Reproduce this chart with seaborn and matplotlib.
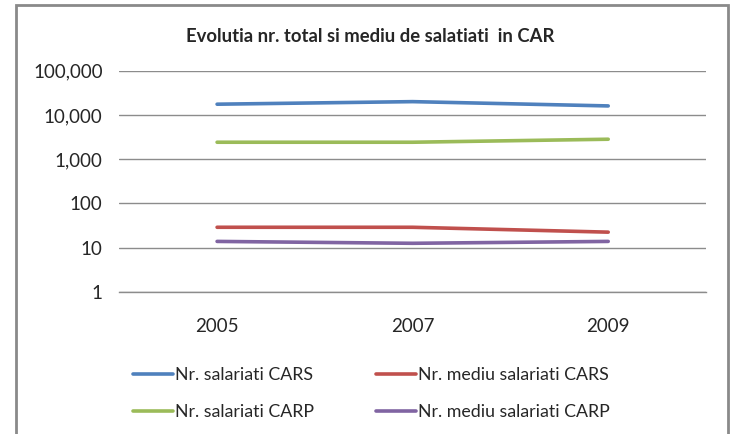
import matplotlib
matplotlib.use("Agg")
import matplotlib.pyplot as plt
import matplotlib.patches as mpatches
from matplotlib.ticker import FixedLocator, NullLocator
import seaborn as sns
import pandas as pd

years = ["2005", "2007", "2009"]
series_names = ["Nr. salariati CARS", "Nr. mediu salariati CARS",
                "Nr. salariati CARP", "Nr. mediu salariati CARP"]
sal_cars = [17500, 20000, 16000]
mediu_cars = [29, 29, 22.5]
sal_carp = [2420, 2420, 2830]
mediu_carp = [13.9, 12.6, 13.9]
ytick_vals = [1, 10, 100, 1000, 10000, 100000]
ytick_labels = ["1", "10", "100", "1,000", "10,000", "100,000"]
colors = ["#4F81BD", "#C0504D", "#9BBB59", "#8064A2"]
title = "Evolutia nr. total si mediu de salatiati  in CAR"

rows = []
for name, vals in zip(series_names, [sal_cars, mediu_cars, sal_carp, mediu_carp]):
    for i, (y, v) in enumerate(zip(years, vals)):
        rows.append({"idx": i, "year": y, "value": v, "series": name})
df = pd.DataFrame(rows)

sns.set_theme(style="white")
plt.rcParams["font.family"] = ["Lato", "DejaVu Sans"]
plt.rcParams["lines.solid_capstyle"] = "round"
plt.rcParams["lines.solid_joinstyle"] = "round"
text_color = "#262626"
grid_color = "#8c8c8c"

fig = plt.figure(figsize=(7.30, 4.34), dpi=100)
ax = fig.add_axes([119.3 / 730, 1 - 292 / 434, (706 - 119.3) / 730, (292 - 70.7) / 434])

sns.lineplot(data=df, x="idx", y="value", hue="series", hue_order=series_names,
             palette=colors, linewidth=2.6, ax=ax, legend=True, sort=False)
ax.set_yscale("log")
ax.set_ylim(1, 100000)
ax.set_xlim(-0.5, len(years) - 0.5)
ax.yaxis.set_major_locator(FixedLocator(ytick_vals))
ax.yaxis.set_minor_locator(NullLocator())
ax.set_yticklabels(ytick_labels)
ax.set_xticks(range(len(years)))
ax.set_xticklabels(years)
ax.tick_params(axis="both", length=0, labelsize=13.5, colors=text_color)
ax.tick_params(axis="y", pad=12)
ax.tick_params(axis="x", pad=19)
ax.set_xlabel("")
ax.set_ylabel("")
for s in ax.spines.values():
    s.set_visible(False)
ax.spines["bottom"].set_visible(True)
ax.spines["bottom"].set_color(grid_color)
ax.spines["bottom"].set_linewidth(1.0)
ax.grid(axis="y", color=grid_color, linewidth=1.0)
ax.grid(axis="x", visible=False)
ax.set_axisbelow(True)

handles, labels = ax.get_legend_handles_labels()
ax.get_legend().remove()
order = [0, 2, 1, 3]
fig.legend([handles[i] for i in order], [labels[i] for i in order],
           loc="center left", bbox_to_anchor=(133 / 730, 1 - 393.5 / 434),
           ncol=2, frameon=False, fontsize=12.8, handlelength=2.25,
           handletextpad=0.1, columnspacing=3.5, labelspacing=1.15,
           borderpad=0, borderaxespad=0, labelcolor=text_color)

fig.text(370 / 730, 1 - 37 / 434, title, ha="center", va="center",
         fontsize=13.3, fontweight="bold", color=text_color)

border = mpatches.Rectangle((15.7 / 730, -0.02), (727.5 - 15.7) / 730, 1 - 5.3 / 434 + 0.02,
                            transform=fig.transFigure, fill=False,
                            edgecolor="#8a8a8a", linewidth=2.0)
fig.patches.append(border)

fig.savefig("out.png", dpi=100, facecolor="white")
